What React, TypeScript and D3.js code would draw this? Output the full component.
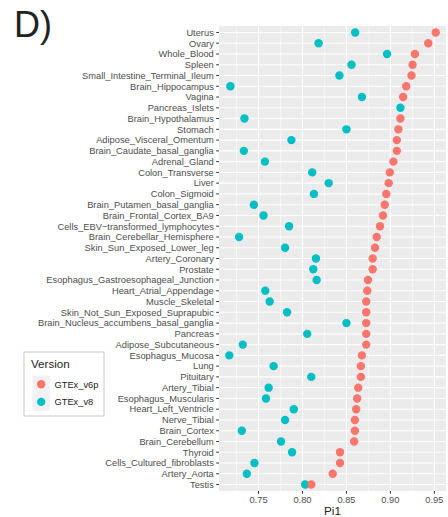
import React from "react";
import * as d3 from "d3";

// Tissues, top to bottom
const tissues = [
  "Uterus", "Ovary", "Whole_Blood", "Spleen", "Small_Intestine_Terminal_Ileum",
  "Brain_Hippocampus", "Vagina", "Pancreas_Islets", "Brain_Hypothalamus", "Stomach",
  "Adipose_Visceral_Omentum", "Brain_Caudate_basal_ganglia", "Adrenal_Gland",
  "Colon_Transverse", "Liver", "Colon_Sigmoid", "Brain_Putamen_basal_ganglia",
  "Brain_Frontal_Cortex_BA9", "Cells_EBV\u2212transformed_lymphocytes",
  "Brain_Cerebellar_Hemisphere", "Skin_Sun_Exposed_Lower_leg", "Artery_Coronary",
  "Prostate", "Esophagus_Gastroesophageal_Junction", "Heart_Atrial_Appendage",
  "Muscle_Skeletal", "Skin_Not_Sun_Exposed_Suprapubic",
  "Brain_Nucleus_accumbens_basal_ganglia", "Pancreas", "Adipose_Subcutaneous",
  "Esophagus_Mucosa", "Lung", "Pituitary", "Artery_Tibial", "Esophagus_Muscularis",
  "Heart_Left_Ventricle", "Nerve_Tibial", "Brain_Cortex", "Brain_Cerebellum",
  "Thyroid", "Cells_Cultured_fibroblasts", "Artery_Aorta", "Testis",
];

// Pi1 per tissue, GTEx v6p (null = tissue not present)
const pi1V6p: (number | null)[] = [
  0.9515, 0.9431, 0.9279, 0.9252, 0.924,
  0.918, 0.9145, null, 0.9114, 0.9091,
  0.9073, 0.9073, 0.9034,
  0.8993, 0.8981, 0.8954, 0.8935,
  0.8916, 0.8882,
  0.8844, 0.8825, 0.8798,
  0.8798, 0.8745, 0.8737,
  0.8725, 0.8725,
  0.8725, 0.8725, 0.8725,
  0.8676, 0.8664, 0.8664, 0.8634, 0.8622,
  0.8611, 0.8596, 0.8596, 0.8588,
  0.8427, 0.8427, 0.8344, 0.81,
];

// Pi1 per tissue, GTEx v8
const pi1V8: (number | null)[] = [
  0.8599, 0.8183, 0.8962, 0.8558, 0.842,
  0.718, 0.8676, 0.9114, 0.734, 0.85,
  0.7874, 0.7333, 0.7573,
  0.8111, 0.8298, 0.813, 0.7447,
  0.7557, 0.7848,
  0.7279, 0.7802, 0.8153,
  0.8123, 0.8161, 0.7577,
  0.7627, 0.7825,
  0.85, 0.8054, 0.7321,
  0.7168, 0.7672, 0.81, 0.7615, 0.7585,
  0.7901, 0.7802, 0.731, 0.7756,
  0.7882, 0.7454, 0.7367, 0.8031,
];

const versions = ["GTEx_v6p", "GTEx_v8"];
const versionColors = ["#F8766D", "#00BFC4"];
const xTicks = [0.75, 0.8, 0.85, 0.9, 0.95];
const xMinor = [0.725, 0.775, 0.825, 0.875, 0.925];

const W = 448;
const H = 517;
const panel = { left: 219, top: 26, right: 446, bottom: 491 };
const FONT = "'Liberation Sans', Arial, Helvetica, sans-serif";

export default function App() {
  const all = [...pi1V6p, ...pi1V8].filter((v): v is number => v != null);
  const [lo, hi] = d3.extent(all) as [number, number];
  const pad = (hi - lo) * 0.05;
  const x = d3.scaleLinear().domain([lo - pad, hi + pad]).range([panel.left, panel.right]);
  const y = d3.scalePoint<string>().domain(tissues).range([panel.top, panel.bottom]).padding(0.6);

  // v8 drawn first, v6p on top
  const series = [
    { values: pi1V8, color: versionColors[1] },
    { values: pi1V6p, color: versionColors[0] },
  ];

  return (
    <svg
      width={W}
      height={H}
      style={{ position: "absolute", left: 0, top: 0, background: "#fff" }}
      fontFamily={FONT}
    >
      <text x={14} y={37} fontSize={36} fill="#222">D)</text>

      <rect
        x={panel.left}
        y={panel.top}
        width={panel.right - panel.left}
        height={panel.bottom - panel.top}
        fill="#EBEBEB"
      />
      {xMinor.map((t) => (
        <line key={"mn" + t} x1={x(t)} x2={x(t)} y1={panel.top} y2={panel.bottom} stroke="#fff" strokeWidth={0.55} />
      ))}
      {xTicks.map((t) => (
        <line key={"mj" + t} x1={x(t)} x2={x(t)} y1={panel.top} y2={panel.bottom} stroke="#fff" strokeWidth={1.1} />
      ))}
      {tissues.map((t) => (
        <line key={"hg" + t} x1={panel.left} x2={panel.right} y1={y(t)} y2={y(t)} stroke="#fff" strokeWidth={1.1} />
      ))}

      {series.map((s, si) =>
        tissues.map((t, i) => {
          const v = s.values[i];
          if (v == null) return null;
          return <circle key={si + "-" + t} cx={x(v)} cy={y(t)} r={4.2} fill={s.color} />;
        })
      )}

      {/* y axis */}
      {tissues.map((t) => (
        <g key={"yl" + t}>
          <line x1={panel.left - 2.8} x2={panel.left} y1={y(t)} y2={y(t)} stroke="#333" strokeWidth={1} />
          <text x={panel.left - 5.2} y={y(t)! + 3.3} fontSize={9.3} fill="#4D4D4D" textAnchor="end">
            {t}
          </text>
        </g>
      ))}

      {/* x axis */}
      {xTicks.map((t) => (
        <g key={"xl" + t}>
          <line x1={x(t)} x2={x(t)} y1={panel.bottom} y2={panel.bottom + 2.8} stroke="#333" strokeWidth={1} />
          <text x={x(t)} y={panel.bottom + 11.8} fontSize={9.3} fill="#4D4D4D" textAnchor="middle">
            {d3.format(".2f")(t)}
          </text>
        </g>
      ))}
      <text x={(panel.left + panel.right) / 2} y={515} fontSize={11.6} fill="#222" textAnchor="middle">
        Pi1
      </text>

      {/* legend */}
      <rect x={24} y={352} width={80} height={64} fill="#fff" stroke="#C8C8C8" strokeWidth={1} />
      <text x={31} y={368} fontSize={11.6} fill="#222">Version</text>
      {versions.map((v, i) => {
        const cy = 384.3 + i * 17.6;
        return (
          <g key={v}>
            <rect x={32.5} y={cy - 8.8} width={17.3} height={17.6} fill="#F2F2F2" />
            <circle cx={41.2} cy={cy} r={4.2} fill={versionColors[i]} />
            <text x={54.5} y={cy + 3.3} fontSize={9.3} fill="#222">{v}</text>
          </g>
        );
      })}
    </svg>
  );
}
